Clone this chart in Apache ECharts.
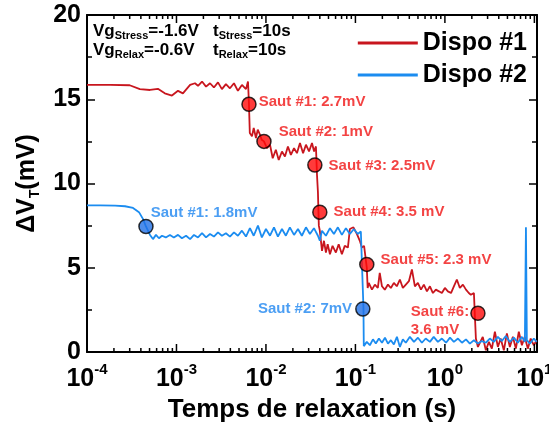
<!DOCTYPE html>
<html><head><meta charset="utf-8">
<script src="https://cdn.jsdelivr.net/npm/echarts@6/dist/echarts.min.js"></script>
<style>html,body{margin:0;padding:0;background:#fff}#c{width:549px;height:429px}</style>
</head><body><div id="c"></div>
<script>
const FONT = '"Liberation Sans", Arial, sans-serif';
const xMajorTicks = [1e-4, 1e-3, 1e-2, 1e-1, 1, 10];
const xMinorMultipliers = [2, 3, 4, 5, 6, 7, 8, 9];
const seriesNames = ['Dispo #1', 'Dispo #2'];

// Dispo #1: [time (s), ΔVT (mV)]
const dispo1 = [
[1.0e-4,15.85],[1.81e-4,15.85],[3.0e-4,15.83],[3.9e-4,15.6],[5.06e-4,15.55],[6.2e-4,15.62],[7.4e-4,15.35],[8.9e-4,15.22],
[1.04e-3,15.5],[1.18e-3,15.35],[1.42e-3,15.85],[1.61e-3,15.95],[1.74e-3,15.8],[1.93e-3,16.05],[2.14e-3,15.75],[2.37e-3,15.95],
[2.62e-3,15.7],[2.91e-3,16.0],[3.22e-3,15.6],[3.57e-3,15.9],[3.96e-3,15.65],[4.39e-3,15.95],[4.86e-3,15.5],[5.39e-3,15.85],
[5.98e-3,15.6],[6.3e-3,16.05],[6.46e-3,14.7],[6.6e-3,13.0],[6.98e-3,12.8],[7.3e-3,13.3],[7.73e-3,12.7],[8.1e-3,13.2],
[8.57e-3,12.9],[8.97e-3,12.6],[9.5e-3,12.5],[1.026e-2,12.1],[1.11e-2,12.3],[1.19e-2,11.5],[1.29e-2,12.0],[1.39e-2,11.4],
[1.51e-2,11.9],[1.63e-2,11.6],[1.76e-2,12.2],[1.9e-2,11.7],[2.06e-2,12.1],[2.22e-2,11.8],[2.4e-2,12.4],[2.6e-2,11.8],
[2.8e-2,12.3],[3.03e-2,11.9],[3.27e-2,12.4],[3.45e-2,11.9],[3.62e-2,12.2],[3.72e-2,10.5],[3.81e-2,9.5],[3.9e-2,7.5],
[4.0e-2,7.2],[4.23e-2,6.0],[4.45e-2,6.6],[4.68e-2,5.9],[4.9e-2,6.4],[5.19e-2,5.8],[5.55e-2,6.3],[6.05e-2,5.9],
[6.5e-2,6.4],[7.06e-2,5.8],[7.6e-2,6.3],[8.24e-2,6.2],[8.67e-2,7.3],[9.5e-2,7.4],[1.04e-1,7.0],[1.12e-1,6.6],
[1.18e-1,6.2],[1.25e-1,6.3],[1.31e-1,6.2],[1.34e-1,5.0],[1.37e-1,3.8],[1.41e-1,4.1],[1.53e-1,3.7],[1.65e-1,4.0],
[1.78e-1,3.8],[1.87e-1,4.7],[1.98e-1,3.9],[2.13e-1,3.7],[2.31e-1,4.0],[2.49e-1,3.8],[2.69e-1,4.1],[2.9e-1,3.9],
[3.14e-1,4.3],[3.39e-1,3.8],[3.66e-1,4.0],[3.96e-1,4.2],[4.28e-1,4.9],[4.62e-1,3.9],[4.99e-1,4.1],[5.4e-1,3.7],
[5.82e-1,4.0],[6.3e-1,3.6],[6.8e-1,3.9],[7.35e-1,3.5],[7.93e-1,3.7],[8.57e-1,3.6],[9.25e-1,3.5],[1.0,3.8],
[1.08,3.6],[1.17,3.5],[1.26,3.9],[1.36,4.3],[1.47,3.8],[1.59,4.0],[1.72,3.7],[1.85,3.5],[1.95,3.4],[2.11,3.5],
[2.17,2.0],[2.22,0.8],[2.34,0.3],[2.46,0.2],[2.65,0.9],[2.87,0.1],[3.1,0.6],[3.35,0.2],[3.62,1.2],[3.91,0.3],
[4.2,0.8],[4.56,0.1],[4.93,1.1],[5.32,0.3],[5.75,0.9],[6.21,0.2],[6.7,1.2],[7.25,0.4],[7.8,0.9],[8.45,0.2],
[9.1,0.8],[9.87,0.4],[10.6,0.7]
];

// Dispo #2: [time (s), ΔVT (mV)]
const dispo2 = [
[1.0e-4,8.7],[1.4e-4,8.7],[2.06e-4,8.69],[2.66e-4,8.65],[3.27e-4,8.55],[3.81e-4,8.3],[4.22e-4,7.9],[4.56e-4,7.45],
[5.06e-4,6.95],[5.46e-4,6.7],[5.9e-4,6.95],[6.37e-4,6.75],[6.89e-4,6.9],[7.6e-4,6.8],[8.45e-4,6.95],[9.35e-4,6.8],
[1.04e-3,6.95],[1.15e-3,6.75],[1.28e-3,6.9],[1.42e-3,6.7],[1.57e-3,6.95],[1.74e-3,6.8],[1.93e-3,7.05],[2.14e-3,6.8],
[2.37e-3,7.0],[2.62e-3,6.85],[2.91e-3,7.1],[3.22e-3,6.9],[3.57e-3,7.05],[3.96e-3,6.85],[4.39e-3,7.1],[4.86e-3,6.9],
[5.39e-3,7.2],[5.98e-3,6.85],[6.62e-3,7.35],[7.3e-3,6.9],[8.14e-3,7.5],[9.0e-3,6.8],[1.0e-2,7.3],[1.11e-2,6.9],
[1.23e-2,7.4],[1.36e-2,6.85],[1.51e-2,7.3],[1.67e-2,6.9],[1.85e-2,7.4],[2.06e-2,6.95],[2.28e-2,7.3],[2.52e-2,6.9],
[2.8e-2,7.4],[3.1e-2,7.0],[3.44e-2,7.35],[3.81e-2,6.9],[4.0e-2,6.6],[4.23e-2,7.2],[4.68e-2,6.9],[5.19e-2,7.35],
[5.75e-2,7.0],[6.37e-2,7.4],[7.06e-2,6.95],[7.83e-2,7.35],[8.67e-2,7.0],[9.6e-2,7.3],[1.06e-1,7.0],[1.15e-1,7.15],
[1.21e-1,7.1],[1.23e-1,2.6],[1.24e-1,0.35],[1.34e-1,0.6],[1.45e-1,0.4],[1.57e-1,0.75],[1.69e-1,0.5],[1.83e-1,0.8],
[1.98e-1,0.55],[2.14e-1,0.85],[2.31e-1,0.5],[2.49e-1,0.7],[2.69e-1,0.45],[2.91e-1,0.9],[3.14e-1,0.3],[3.39e-1,0.75],
[3.66e-1,0.55],[4.06e-1,0.9],[4.51e-1,0.6],[5.0e-1,0.85],[5.53e-1,0.55],[6.1e-1,0.8],[6.8e-1,0.6],[7.5e-1,0.9],
[8.35e-1,0.6],[9.25e-1,0.8],[1.03,0.55],[1.14,0.85],[1.26,0.6],[1.40,0.8],[1.55,0.55],[1.72,0.75],[1.90,0.5],
[2.11,0.7],[2.34,0.5],[2.58,0.65],[2.87,0.55],[3.18,0.8],[3.52,0.6],[3.91,0.9],[4.33,0.65],[4.8,0.95],[5.32,0.6],
[5.9,0.85],[6.54,0.55],[7.25,0.9],[7.83,0.6],[8.05,7.4],[8.24,0.7],[8.9,0.5],[9.87,0.8],[10.6,0.6]
];

const jumps1 = [[6.46e-3,14.7],[9.5e-3,12.5],[3.52e-2,11.1],[4.0e-2,8.3],[1.34e-1,5.2],[2.34,2.3]];
const jumps1Labels = ['Saut #1: 2.7mV','Saut #2: 1mV','Saut #3: 2.5mV','Saut #4: 3.5 mV','Saut #5: 2.3 mV','{a|Saut #6:}\n{a|3.6 mV}'];
const jumps2 = [[4.56e-4,7.45],[1.21e-1,2.55]];
const jumps2Labels = ['Saut #1: 1.8mV','Saut #2: 7mV'];

const xMinorTicks = [];
xMajorTicks.slice(0, -1).forEach(d => xMinorMultipliers.forEach(m => xMinorTicks.push(d * m)));

const RED_LINE = '#c8161e', BLUE_LINE = '#1b8cf0';
const RED_DOT = '#ff0a0a', BLUE_DOT = '#2070e6';
const RED_TXT = '#f01414', BLUE_TXT = '#1e86f0';

const jumps1Layout = [
  {position:'right', distance:2, offset:[0,-2]},
  {position:'right', distance:7, offset:[0,-10]},
  {position:'right', distance:6, offset:[0,1]},
  {position:'right', distance:6, offset:[0,0]},
  {position:'right', distance:6, offset:[0,-5]},
  {position:'left', distance:1, offset:[0,8]}
];
const jumps2Layout = [
  {position:'right', distance:0, offset:[-3,-14]},
  {position:'left', distance:3, offset:[0,0]}
];

const X_MIN = 1e-4, X_MAX = 10.7;
const axisLineStyle = {color:'#000', width:2};
const tickLineStyle = {color:'#000', width:1.5};
const MAJOR_LEN = 8, MINOR_LEN = 4;

function xAxis(pos, withLabel) {
  const a = {
    type:'log', logBase:10, min:X_MIN, max:X_MAX, position:pos,
    axisLine:{show:true, onZero:false, lineStyle:axisLineStyle},
    axisTick:{show:false},
    axisLabel:{show:false},
    splitLine:{show:false}, minorTick:{show:false}
  };
  if (withLabel) {
    a.axisLabel = {
      show:true, customValues:xMajorTicks, margin:10,
      formatter: v => '{b|10}{s|' + Math.round(Math.log10(v)) + '}',
      rich: {
        b:{fontSize:25, fontWeight:'bold', fontFamily:FONT, color:'#000', lineHeight:30, verticalAlign:'bottom'},
        s:{fontSize:15, fontWeight:'bold', fontFamily:FONT, color:'#000', lineHeight:16, verticalAlign:'top'}
      }
    };
    a.name = 'Temps de relaxation (s)';
    a.nameLocation = 'middle';
    a.nameGap = 45;
    a.nameTextStyle = {fontSize:26, fontWeight:'bold', fontFamily:FONT, color:'#000'};
  }
  return a;
}

function yAxis(pos, withLabel) {
  const a = {
    type:'value', min:0, max:20, interval:5, position:pos,
    axisLine:{show:true, onZero:false, lineStyle:axisLineStyle},
    axisTick:{show:true, inside:true, length:MAJOR_LEN, lineStyle:tickLineStyle},
    minorTick:{show:true, splitNumber:2, length:5, lineStyle:tickLineStyle},
    axisLabel:{show:withLabel, fontSize:25, fontWeight:'bold', fontFamily:FONT, color:'#000', margin:6},
    splitLine:{show:false}
  };
  if (withLabel) {
    a.name = '{d|ΔV}{s|T}{d|(mV)}';
    a.nameLocation = 'middle';
    a.nameRotate = 90;
    a.nameGap = 44;
    a.nameTextStyle = {
      rich: {
        d:{fontSize:25, fontWeight:'bold', fontFamily:FONT, color:'#000', lineHeight:30},
        s:{fontSize:14, fontWeight:'bold', fontFamily:FONT, color:'#000', lineHeight:14, verticalAlign:'bottom'}
      }
    };
  }
  return a;
}

function jumpData(points, labels, layout, color) {
  return points.map((p, i) => ({
    value: p,
    label: Object.assign({
      show:true, formatter: labels[i], color: color, fontSize:15, fontWeight:'bold', fontFamily:FONT,
      lineHeight:18,
      rich:{a:{align:'left', color:color, fontSize:15, fontWeight:'bold', fontFamily:FONT, lineHeight:18}}
    }, layout[i])
  }));
}

// x-axis tick marks (log decades + 2..9 subdivisions), positioned through the axis scale
const xTickMarks = xMajorTicks.map(t => [t, 0, MAJOR_LEN]).concat(xMinorTicks.map(t => [t, 0, MINOR_LEN]));
function renderXTick(params, api) {
  const x = api.coord([api.value(0), 0])[0];
  const len = api.value(2);
  const cs = params.coordSys;
  const yb = cs.y + cs.height, yt = cs.y;
  return {
    type:'group', children:[
      {type:'line', shape:{x1:x, y1:yb, x2:x, y2:yb - len}, style:{stroke:'#000', lineWidth:1.5}},
      {type:'line', shape:{x1:x, y1:yt, x2:x, y2:yt + len}, style:{stroke:'#000', lineWidth:1.5}}
    ]
  };
}

const annRich = {
  m:{fontSize:17, fontWeight:'bold', fontFamily:FONT, fill:'#000', lineHeight:20},
  s:{fontSize:11, fontWeight:'bold', fontFamily:FONT, fill:'#000', lineHeight:12, verticalAlign:'bottom'}
};
function annText(x, y, txt) {
  return {type:'text', x:x, y:y, z:100, style:{text:txt, rich:annRich, fill:'#000', font:'bold 17px ' + FONT}};
}

const chart = echarts.init(document.getElementById('c'), null, {renderer:'canvas'});
chart.setOption({
  animation:false,
  backgroundColor:'#fff',
  grid:{left:87, right:12, top:15, bottom:77, containLabel:false, outerBoundsMode:'none'},
  xAxis:[ xAxis('bottom', true), xAxis('top', false) ],
  yAxis:[ yAxis('left', true), yAxis('right', false) ],
  legend:{
    data:seriesNames, orient:'vertical', right:22, top:30, itemWidth:60, itemHeight:3, itemGap:6,
    icon:'rect', padding:0,
    textStyle:{fontSize:25, fontWeight:'bold', fontFamily:FONT, color:'#000', lineHeight:26}
  },
  graphic:[
    annText(93, 21, '{m|Vg}{s|Stress}{m|=-1.6V}'),
    annText(93, 40, '{m|Vg}{s|Relax}{m|=-0.6V}'),
    annText(213, 21, '{m|t}{s|Stress}{m|=10s}'),
    annText(213, 40, '{m|t}{s|Relax}{m|=10s}')
  ],
  series:[
    {type:'custom', data:xTickMarks, renderItem:renderXTick, silent:true, clip:false, z:6},
    {name:seriesNames[0], type:'line', data:dispo1, showSymbol:false, color:RED_LINE,
     lineStyle:{color:RED_LINE, width:1.8}, z:2},
    {name:seriesNames[1], type:'line', data:dispo2, showSymbol:false, color:BLUE_LINE,
     lineStyle:{color:BLUE_LINE, width:1.8}, z:3},
    {type:'scatter', data:jumpData(jumps1, jumps1Labels, jumps1Layout, RED_TXT), symbolSize:14,
     itemStyle:{color:RED_DOT, borderColor:'#000', borderWidth:1.5}, z:5},
    {type:'scatter', data:jumpData(jumps2, jumps2Labels, jumps2Layout, BLUE_TXT), symbolSize:14,
     itemStyle:{color:BLUE_DOT, borderColor:'#000', borderWidth:1.5}, z:5}
  ]
});
</script>
</body></html>
